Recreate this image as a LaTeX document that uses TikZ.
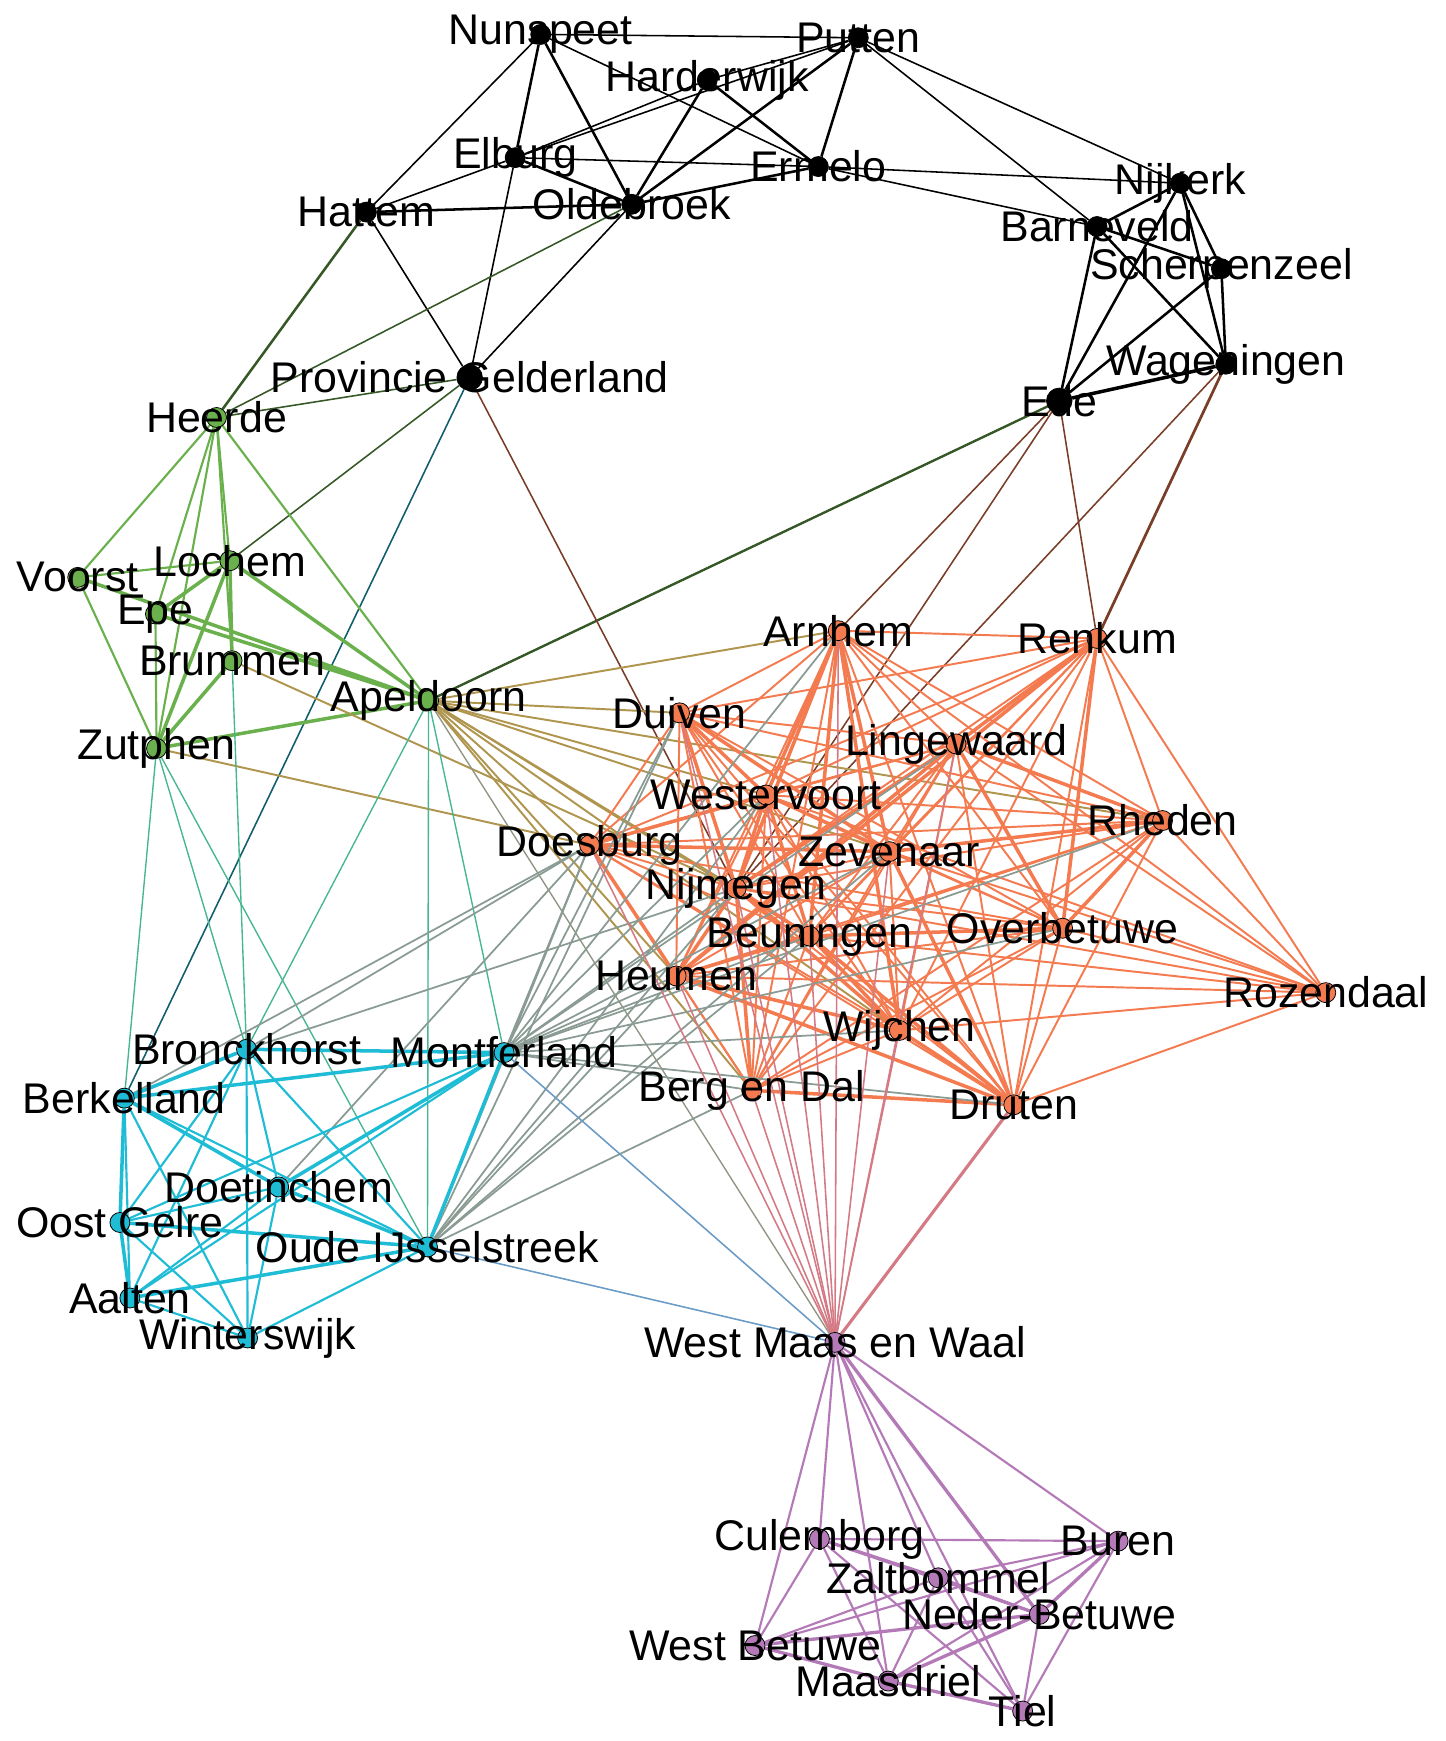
\documentclass[tikz,border=0pt]{standalone}
\usepackage{fontspec}
\setmainfont{Liberation Sans}
\definecolor{cBk}{HTML}{000000}
\definecolor{cGr}{HTML}{6AB04C}
\definecolor{cOr}{HTML}{F47A50}
\definecolor{cCy}{HTML}{1FBCD6}
\definecolor{cPu}{HTML}{B47AB8}
\colorlet{cBkGr}{cGr!50!black}
\colorlet{cBkOr}{cOr!50!black}
\colorlet{cBkCy}{cCy!50!black}
\colorlet{cGrOr}{cGr!50!cOr}
\colorlet{cGrCy}{cGr!50!cCy}
\colorlet{cGrPu}{cGr!50!cPu}
\colorlet{cOrCy}{cOr!50!cCy}
\colorlet{cOrPu}{cOr!50!cPu}
\colorlet{cCyPu}{cCy!50!cPu}
\pgfdeclarelayer{edges}
\pgfsetlayers{edges,main}

\begin{document}
\begin{tikzpicture}[
    x=0.02cm, y=-0.02cm,
    every label/.style={font=\fontsize{22}{24}\selectfont, inner sep=0pt, text=black},
    town/.style={circle, inner sep=0pt, minimum size=0.36cm, draw=black, line width=0.4pt},
    bknode/.style={town, fill=cBk},
    bigtown/.style={minimum size=0.46cm},
    grnode/.style={town, fill=cGr},
    ornode/.style={town, fill=cOr},
    cynode/.style={town, fill=cCy},
    punode/.style={town, fill=cPu},
    link/.style={line width=0.8pt},
    heavy/.style={line width=1.8pt}
]
    \useasboundingbox (0,0) rectangle (1302,1568);

    % Veluwe and Vallei (black)
    \node[bknode, label=center:Nunspeet] (nunspeet) at (487,31) {};
    \node[bknode, label=center:Putten] (putten) at (773,34) {};
    \node[bknode, label=center:Harderwijk] (harderwijk) at (637,72) {};
    \node[bknode, label=center:Elburg] (elburg) at (464,142) {};
    \node[bknode, label=center:Ermelo] (ermelo) at (737,150) {};
    \node[bknode, label=center:Oldebroek] (oldebroek) at (569,184) {};
    \node[bknode, label=center:Hattem] (hattem) at (330,191) {};
    \node[bknode, label=center:Nijkerk] (nijkerk) at (1063,165) {};
    \node[bknode, label=center:Barneveld] (barneveld) at (988,204) {};
    \node[bknode, label=center:Scherpenzeel] (scherpenzeel) at (1100,242) {};
    \node[bknode, label=center:Wageningen] (wageningen) at (1104,328) {};
    \node[bknode, bigtown, label=center:Ede] (ede) at (954,361) {};
    \node[bknode, bigtown, label=center:Provincie Gelderland] (provincie) at (423,340) {};

    % Stedendriehoek (green)
    \node[grnode, label=center:Heerde] (heerde) at (195,376) {};
    \node[grnode, label=center:Voorst] (voorst) at (70,520) {};
    \node[grnode, label=center:Lochem] (lochem) at (207,505) {};
    \node[grnode, label=center:Epe] (epe) at (140,553) {};
    \node[grnode, label=center:Brummen] (brummen) at (209,595) {};
    \node[grnode, label=center:Zutphen] (zutphen) at (141,674) {};
    \node[grnode, label=center:Apeldoorn] (apeldoorn) at (386,631) {};

    % Arnhem-Nijmegen (orange)
    \node[ornode, label=center:Arnhem] (arnhem) at (755,568) {};
    \node[ornode, label=center:Renkum] (renkum) at (988,575) {};
    \node[ornode, label=center:Duiven] (duiven) at (612,642) {};
    \node[ornode, label=center:Lingewaard] (lingewaard) at (861,670) {};
    \node[ornode, label=center:Westervoort] (westervoort) at (690,716) {};
    \node[ornode, label=center:Rheden] (rheden) at (1047,739) {};
    \node[ornode, label=center:Doesburg] (doesburg) at (531,761) {};
    \node[ornode, label=center:Zevenaar] (zevenaar) at (801,767) {};
    \node[ornode, label=center:Nijmegen] (nijmegen) at (663,800) {};
    \node[ornode, label=center:Overbetuwe] (overbetuwe) at (957,836) {};
    \node[ornode, label=center:Beuningen] (beuningen) at (729,843) {};
    \node[ornode, label=center:Heumen] (heumen) at (609,879) {};
    \node[ornode, label=center:Rozendaal] (rozendaal) at (1194,894) {};
    \node[ornode, label=center:Wijchen] (wijchen) at (810,928) {};
    \node[ornode, label=center:Berg en Dal] (bergendal) at (677,982) {};
    \node[ornode, label=center:Druten] (druten) at (913,995) {};

    % Achterhoek (cyan)
    \node[cynode, label=center:Bronckhorst] (bronckhorst) at (222,945) {};
    \node[cynode, label=center:Montferland] (montferland) at (454,948) {};
    \node[cynode, label=center:Berkelland] (berkelland) at (112,989) {};
    \node[cynode, label=center:Doetinchem] (doetinchem) at (251,1069) {};
    \node[cynode, label=center:Oost Gelre] (oostgelre) at (108,1101) {};
    \node[cynode, label=center:Oude IJsselstreek] (oudeijssel) at (385,1123) {};
    \node[cynode, label=center:Aalten] (aalten) at (117,1169) {};
    \node[cynode, label=center:Winterswijk] (winterswijk) at (223,1205) {};

    % Rivierenland (purple)
    \node[punode, label=center:West Maas en Waal] (westmaas) at (752,1209) {};
    \node[punode, label=center:Culemborg] (culemborg) at (738,1386) {};
    \node[punode, label=center:Buren] (buren) at (1007,1388) {};
    \node[punode, label=center:Zaltbommel] (zaltbommel) at (845,1421) {};
    \node[punode, label=center:Neder-Betuwe] (nederbetuwe) at (936,1454) {};
    \node[punode, label=center:West Betuwe] (westbetuwe) at (680,1482) {};
    \node[punode, label=center:Maasdriel] (maasdriel) at (800,1514) {};
    \node[punode, label=center:Tiel] (tiel) at (921,1541) {};

    \begin{pgfonlayer}{edges}
    % Black links
    \foreach \a/\b in {nunspeet/putten, nunspeet/ermelo, nunspeet/hattem, harderwijk/putten,
        harderwijk/elburg, putten/elburg, putten/nijkerk, putten/barneveld, elburg/hattem,
        elburg/ermelo, elburg/provincie, oldebroek/provincie, hattem/provincie,
        ermelo/nijkerk, ermelo/barneveld}
        \draw[link, cBk] (\a) -- (\b);
    \foreach \a/\b in {nunspeet/elburg, nunspeet/oldebroek, harderwijk/ermelo, harderwijk/oldebroek,
        putten/oldebroek, putten/ermelo, elburg/oldebroek, hattem/oldebroek, oldebroek/ermelo,
        nijkerk/barneveld, nijkerk/scherpenzeel, nijkerk/wageningen, nijkerk/ede,
        barneveld/scherpenzeel, barneveld/wageningen, barneveld/ede, scherpenzeel/wageningen,
        scherpenzeel/ede}
        \draw[link, cBk, line width=1.3pt] (\a) -- (\b);
    \draw[heavy, cBk] (wageningen) -- (ede);

    % Mixed links from the black group
    \foreach \a/\b in {oldebroek/heerde, provincie/heerde, provincie/lochem, ede/apeldoorn}
        \draw[link, cBkGr] (\a) -- (\b);
    \draw[link, cBkGr, line width=1.3pt] (hattem) -- (heerde);
    \draw[link, cBkGr, line width=1.2pt] (ede) -- (apeldoorn);
    \foreach \a/\b in {provincie/nijmegen, ede/arnhem, ede/nijmegen, ede/renkum, wageningen/nijmegen}
        \draw[link, cBkOr] (\a) -- (\b);
    \draw[link, cBkOr, line width=1.4pt] (wageningen) -- (renkum);
    \draw[link, cBkCy] (provincie) -- (berkelland);

    % Green links
    \foreach \a/\b in {heerde/voorst, heerde/epe, heerde/zutphen, heerde/lochem, heerde/brummen,
        heerde/apeldoorn, voorst/lochem, voorst/zutphen, epe/zutphen}
        \draw[link, cGr, line width=1.1pt] (\a) -- (\b);
    \foreach \a/\b in {voorst/apeldoorn, epe/apeldoorn, lochem/apeldoorn, lochem/zutphen,
        brummen/zutphen, zutphen/apeldoorn, epe/lochem, lochem/brummen}
        \draw[heavy, cGr] (\a) -- (\b);

    % Mixed links from the green group
    \foreach \a/\b in {zutphen/doesburg, brummen/nijmegen, apeldoorn/arnhem, apeldoorn/duiven,
        apeldoorn/rheden, apeldoorn/westervoort, apeldoorn/zevenaar, apeldoorn/nijmegen,
        apeldoorn/beuningen, apeldoorn/wijchen, apeldoorn/doesburg, apeldoorn/heumen,
        apeldoorn/bergendal}
        \draw[link, cGrOr, line width=1pt] (\a) -- (\b);
    \foreach \a/\b in {zutphen/berkelland, zutphen/bronckhorst, zutphen/oudeijssel,
        brummen/bronckhorst, apeldoorn/bronckhorst, apeldoorn/oudeijssel, apeldoorn/montferland}
        \draw[link, cGrCy, line width=0.7pt] (\a) -- (\b);
    \draw[link, cGrPu, line width=0.7pt] (apeldoorn) -- (westmaas);

    % Orange links
    \foreach \a/\b in {arnhem/renkum, arnhem/duiven, arnhem/lingewaard, arnhem/rheden,
        arnhem/doesburg, arnhem/overbetuwe, arnhem/heumen, arnhem/rozendaal, arnhem/bergendal,
        arnhem/druten, renkum/duiven, renkum/westervoort, renkum/rheden, renkum/doesburg,
        renkum/zevenaar, renkum/nijmegen, renkum/beuningen, renkum/rozendaal, renkum/wijchen,
        renkum/bergendal, renkum/druten, duiven/lingewaard, duiven/rheden, duiven/doesburg,
        duiven/overbetuwe, duiven/beuningen, duiven/heumen, duiven/wijchen, duiven/bergendal,
        duiven/druten, lingewaard/westervoort, lingewaard/doesburg, lingewaard/zevenaar,
        lingewaard/beuningen, lingewaard/rozendaal, lingewaard/wijchen, lingewaard/bergendal,
        lingewaard/druten, westervoort/rheden, westervoort/overbetuwe, westervoort/heumen,
        westervoort/rozendaal, westervoort/wijchen, westervoort/bergendal, westervoort/druten,
        rheden/doesburg, rheden/nijmegen, rheden/beuningen, rheden/heumen, rheden/rozendaal,
        rheden/wijchen, rheden/bergendal, rheden/druten, doesburg/nijmegen, doesburg/overbetuwe,
        doesburg/beuningen, doesburg/wijchen, doesburg/bergendal, doesburg/druten,
        zevenaar/nijmegen, zevenaar/overbetuwe, zevenaar/beuningen, zevenaar/heumen,
        zevenaar/rozendaal, zevenaar/wijchen, zevenaar/bergendal, nijmegen/overbetuwe,
        nijmegen/rozendaal, nijmegen/druten, overbetuwe/heumen, overbetuwe/rozendaal,
        overbetuwe/wijchen, overbetuwe/bergendal, overbetuwe/druten, beuningen/rozendaal,
        beuningen/bergendal, heumen/rozendaal, heumen/bergendal, rozendaal/wijchen,
        rozendaal/druten, wijchen/bergendal}
        \draw[link, cOr, line width=1pt] (\a) -- (\b);
    \foreach \a/\b in {arnhem/westervoort, arnhem/nijmegen, arnhem/zevenaar, arnhem/beuningen,
        arnhem/wijchen, duiven/westervoort, duiven/nijmegen, duiven/zevenaar, westervoort/nijmegen,
        westervoort/beuningen, westervoort/zevenaar, nijmegen/beuningen, nijmegen/wijchen,
        nijmegen/heumen, nijmegen/bergendal, beuningen/wijchen, beuningen/druten, wijchen/druten,
        bergendal/druten, heumen/beuningen, heumen/wijchen, heumen/druten, doesburg/zevenaar,
        doesburg/westervoort, doesburg/heumen, lingewaard/nijmegen, lingewaard/rheden,
        lingewaard/overbetuwe, lingewaard/heumen, zevenaar/rheden, rheden/overbetuwe,
        renkum/lingewaard, renkum/overbetuwe, zevenaar/druten, overbetuwe/beuningen, renkum/heumen}
        \draw[heavy, cOr] (\a) -- (\b);

    % Orange to cyan and purple
    \foreach \a/\b in {montferland/arnhem, montferland/duiven, montferland/westervoort,
        montferland/doesburg, montferland/lingewaard, montferland/zevenaar, montferland/nijmegen,
        montferland/beuningen, montferland/heumen, montferland/rheden, montferland/overbetuwe,
        montferland/wijchen, montferland/bergendal, montferland/druten, oudeijssel/doesburg,
        oudeijssel/duiven, oudeijssel/westervoort, oudeijssel/nijmegen, oudeijssel/heumen,
        oudeijssel/beuningen, oudeijssel/bergendal, oudeijssel/zevenaar, bronckhorst/doesburg,
        bronckhorst/nijmegen, berkelland/doesburg, doetinchem/doesburg}
        \draw[link, cOrCy, line width=0.9pt] (\a) -- (\b);
    \foreach \a/\b in {westmaas/doesburg, westmaas/duiven, westmaas/heumen, westmaas/nijmegen,
        westmaas/westervoort, westmaas/beuningen, westmaas/bergendal, westmaas/zevenaar,
        westmaas/wijchen, westmaas/arnhem, westmaas/lingewaard}
        \draw[link, cOrPu] (\a) -- (\b);
    \draw[link, cOrPu, line width=1.6pt] (westmaas) -- (druten);
    \foreach \a/\b in {montferland/westmaas, oudeijssel/westmaas}
        \draw[link, cCyPu] (\a) -- (\b);

    % Cyan links
    \foreach \a/\b in {bronckhorst/doetinchem, bronckhorst/oostgelre, bronckhorst/aalten,
        bronckhorst/winterswijk, bronckhorst/oudeijssel, montferland/oostgelre, montferland/aalten,
        berkelland/aalten, berkelland/winterswijk, berkelland/oudeijssel, doetinchem/oostgelre,
        doetinchem/aalten, doetinchem/winterswijk, oostgelre/winterswijk, aalten/winterswijk,
        winterswijk/oudeijssel}
        \draw[link, cCy, line width=1.1pt] (\a) -- (\b);
    \foreach \a/\b in {bronckhorst/montferland, bronckhorst/berkelland, berkelland/doetinchem,
        doetinchem/oudeijssel, montferland/oudeijssel, oostgelre/oudeijssel, berkelland/oostgelre,
        oostgelre/aalten, montferland/berkelland, aalten/oudeijssel, montferland/doetinchem}
        \draw[heavy, cCy] (\a) -- (\b);

    % Purple links
    \foreach \a/\b in {westmaas/culemborg, westmaas/westbetuwe, westmaas/maasdriel,
        westmaas/zaltbommel, westmaas/tiel, westmaas/buren, culemborg/buren, culemborg/westbetuwe,
        culemborg/maasdriel, culemborg/tiel, culemborg/nederbetuwe, buren/zaltbommel,
        buren/westbetuwe, buren/maasdriel, buren/tiel, zaltbommel/westbetuwe, zaltbommel/maasdriel,
        zaltbommel/tiel, nederbetuwe/tiel}
        \draw[link, cPu, line width=1.1pt] (\a) -- (\b);
    \foreach \a/\b in {westmaas/nederbetuwe, buren/nederbetuwe, zaltbommel/nederbetuwe,
        westbetuwe/nederbetuwe, maasdriel/nederbetuwe, westbetuwe/maasdriel, maasdriel/tiel,
        culemborg/zaltbommel}
        \draw[cPu, line width=1.7pt] (\a) -- (\b);
    \end{pgfonlayer}
\end{tikzpicture}
\end{document}
